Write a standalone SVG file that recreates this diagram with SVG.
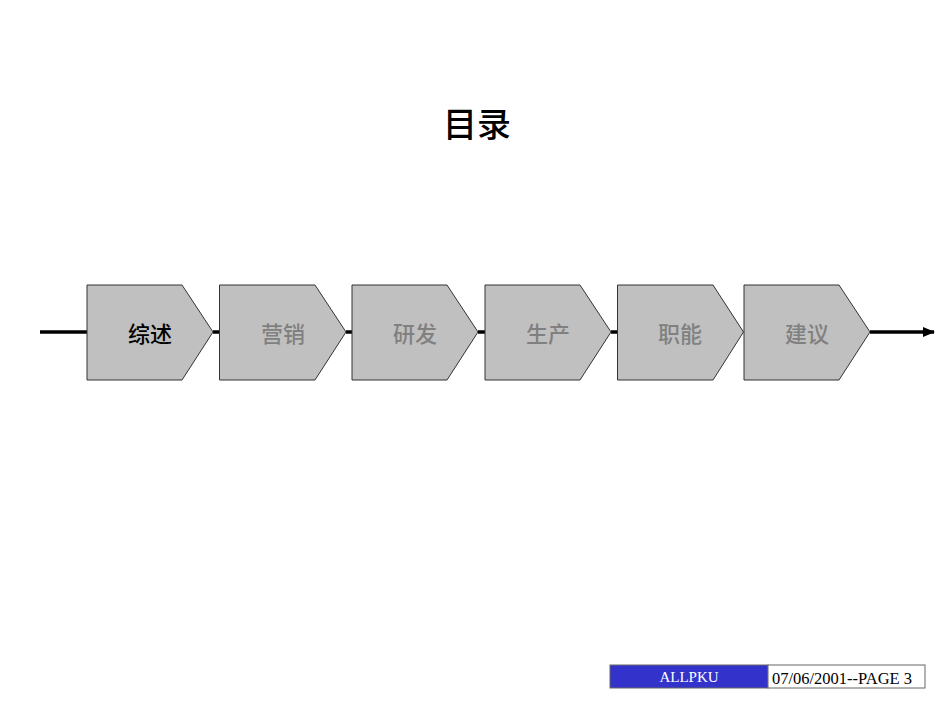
<svg xmlns="http://www.w3.org/2000/svg" width="950" height="713" viewBox="0 0 950 713">
<defs>
<style>
.step{fill:#c0c0c0;stroke:#333333;stroke-width:1}
.lbl{font-family:"Liberation Sans","Noto Sans CJK SC",sans-serif;font-size:22px;font-weight:500;text-anchor:middle;fill:#808080}
.ft{font-family:"Liberation Serif",serif;text-anchor:middle}
</style>
<marker id="ah" markerWidth="12" markerHeight="10" refX="11" refY="5" orient="auto" markerUnits="userSpaceOnUse">
<path d="M0,0 L12,5 L0,10 Z" fill="#000"/>
</marker>
</defs>
<rect width="950" height="713" fill="#fff"/>
<text x="477" y="137" font-family="'Liberation Sans','Noto Sans CJK SC',sans-serif" font-size="34" font-weight="500" text-anchor="middle" fill="#000">目录</text>
<g id="connectors" stroke="#000" stroke-width="3.5" fill="none">
<line x1="40" y1="332" x2="87" y2="332"/>
<line x1="213" y1="332" x2="220" y2="332"/>
<line x1="346" y1="332" x2="352" y2="332"/>
<line x1="478" y1="332" x2="485" y2="332"/>
<line x1="611" y1="332" x2="617" y2="332"/>
<line x1="870" y1="332" x2="934" y2="332" marker-end="url(#ah)"/>
</g>
<g id="n1"><path class="step" d="M87,285 H182 L213,332 L182,380 H87 Z"/><text class="lbl" x="150" y="342" style="fill:#000">综述</text></g>
<g id="n2"><path class="step" d="M219.5,285 H315 L346,332 L315,380 H219.5 Z"/><text class="lbl" x="283" y="342">营销</text></g>
<g id="n3"><path class="step" d="M352,285 H447 L478,332 L447,380 H352 Z"/><text class="lbl" x="415" y="342">研发</text></g>
<g id="n4"><path class="step" d="M485,285 H580 L611,332 L580,380 H485 Z"/><text class="lbl" x="548" y="342">生产</text></g>
<g id="n5"><path class="step" d="M617.5,285 H713 L743.5,332 L713,380 H617.5 Z"/><text class="lbl" x="680" y="342">职能</text></g>
<g id="n6"><path class="step" d="M744,285 H839 L870,332 L839,380 H744 Z"/><text class="lbl" x="807" y="342">建议</text></g>
<g id="footer">
<rect x="610" y="665" width="158" height="23" fill="#3333cc" stroke="#666" stroke-width="1"/>
<rect x="768" y="665" width="157" height="23" fill="#fff" stroke="#666" stroke-width="1"/>
<text class="ft" x="689" y="682" fill="#fff" font-size="15">ALLPKU</text>
<text class="ft" x="842" y="684" fill="#000" font-size="16.5">07/06/2001--PAGE 3</text>
</g>
</svg>
